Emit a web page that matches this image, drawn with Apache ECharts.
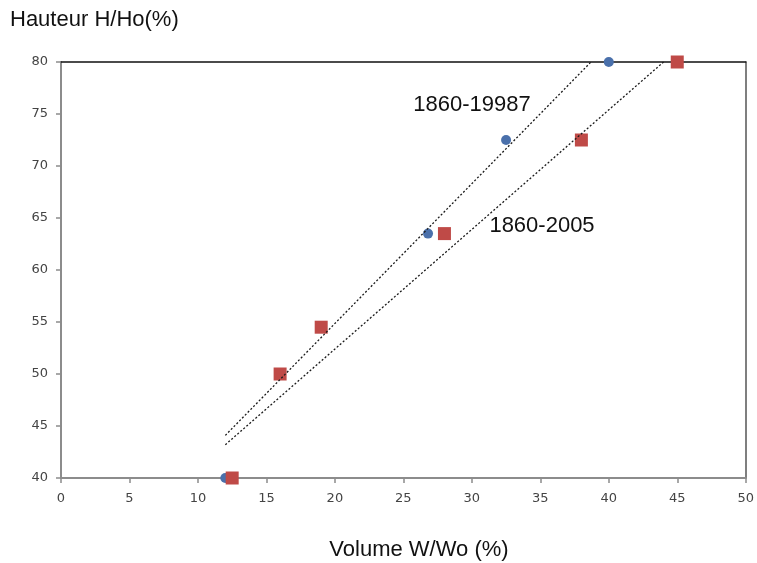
<!DOCTYPE html>
<html>
<head>
<meta charset="utf-8">
<script src="https://cdn.jsdelivr.net/npm/echarts@6/dist/echarts.min.js"></script>
<style>
html,body{margin:0;padding:0;background:#fff;}
#chart{width:757px;height:563px;}
</style>
</head>
<body>
<div id="chart"></div>
<script>
// Data
var xTitle = 'Volume W/Wo (%)';
var yTitle = 'Hauteur H/Ho(%)';
var label1987 = '1860-19987';
var label2005 = '1860-2005';
// series 1860-1987 (blue)
var volume1987 = [12, 26.8, 32.5, 40];
var height1987 = [40, 63.5, 72.5, 80];
// series 1860-2005 (red)
var volume2005 = [12.5, 16, 19, 28, 38, 45];
var height2005 = [40, 50, 54.5, 63.5, 72.5, 80];
// trend lines (end points as drawn)
var trend1987X = [12, 38.7];
var trend1987Y = [44.1, 80];
var trend2005X = [12, 44];
var trend2005Y = [43.2, 80];
// axes
var xMin = 0, xMax = 50, xStep = 5;
var yMin = 40, yMax = 80, yStep = 5;

function pairs(xs, ys){ return xs.map(function(x,i){ return [x, ys[i]]; }); }

var chart = echarts.init(document.getElementById('chart'), null, {renderer:'canvas'});
var tickFont = {fontFamily:'DejaVu Sans', fontSize:13, color:'#444'};
chart.setOption({
  animation:false,
  backgroundColor:'#fff',
  grid:{left:61, right:9, top:62, bottom:85, containLabel:false},
  xAxis:[{
    type:'value', min:xMin, max:xMax, interval:xStep,
    axisLine:{show:true, onZero:false, lineStyle:{color:'#8c8c8c', width:2}},
    axisTick:{show:true, length:5, lineStyle:{color:'#8c8c8c', width:1.5}},
    axisLabel:Object.assign({margin:14}, tickFont),
    splitLine:{show:false}
  },{
    type:'value', position:'top', min:xMin, max:xMax, interval:xStep,
    axisLine:{show:true, onZero:false, lineStyle:{color:'#111', width:1.5}},
    axisTick:{show:false}, axisLabel:{show:false}, splitLine:{show:false}
  }],
  yAxis:[{
    type:'value', min:yMin, max:yMax, interval:yStep,
    axisLine:{show:true, onZero:false, lineStyle:{color:'#8c8c8c', width:2}},
    axisTick:{show:true, length:5, lineStyle:{color:'#8c8c8c', width:1.5}},
    axisLabel:Object.assign({margin:13}, tickFont),
    splitLine:{show:false}
  },{
    type:'value', position:'right', min:yMin, max:yMax, interval:yStep,
    axisLine:{show:true, onZero:false, lineStyle:{color:'#555', width:1.5}},
    axisTick:{show:false}, axisLabel:{show:false}, splitLine:{show:false}
  }],
  series:[{
    name:label1987, type:'scatter', clip:false, z:3,
    symbol:'circle', symbolSize:10,
    itemStyle:{color:'#4a70ab', opacity:1},
    data:pairs(volume1987, height1987)
  },{
    name:label2005, type:'scatter', clip:false, z:4,
    symbol:'rect', symbolSize:13,
    itemStyle:{color:'#bf4a47', opacity:1},
    data:pairs(volume2005, height2005)
  },{
    type:'line', z:5, symbol:'none', silent:true,
    lineStyle:{color:'#1a1a1a', width:1.3, type:[2,2]},
    data:pairs(trend1987X, trend1987Y)
  },{
    type:'line', z:5, symbol:'none', silent:true,
    lineStyle:{color:'#1a1a1a', width:1.3, type:[2,2]},
    data:pairs(trend2005X, trend2005Y)
  }],
  graphic:[{
    type:'text', left:10, top:9,
    style:{text:yTitle, font:'22px "Liberation Sans", Arial, sans-serif', fill:'#111'}
  },{
    type:'text', x:419, y:550,
    style:{text:xTitle, font:'22px "Liberation Sans", Arial, sans-serif', fill:'#111', textAlign:'center', textVerticalAlign:'middle'}
  },{
    type:'text', x:472, y:105,
    style:{text:label1987, font:'22px "Liberation Sans", Arial, sans-serif', fill:'#111', textAlign:'center', textVerticalAlign:'middle'}
  },{
    type:'text', x:542, y:226,
    style:{text:label2005, font:'22px "Liberation Sans", Arial, sans-serif', fill:'#111', textAlign:'center', textVerticalAlign:'middle'}
  }]
});
</script>
</body>
</html>
